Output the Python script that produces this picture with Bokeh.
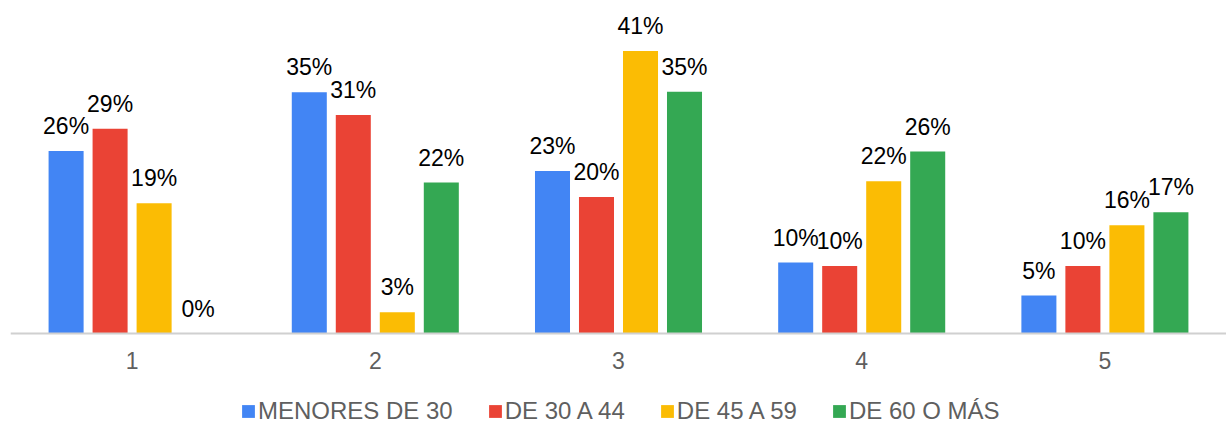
from bokeh.plotting import figure
from bokeh.models import ColumnDataSource, FactorRange, Range1d, Legend, LegendItem
from bokeh.transform import dodge
from bokeh.core.properties import value
from bokeh.embed import file_html
from bokeh.resources import INLINE

categories = ["1", "2", "3", "4", "5"]
series_names = ["MENORES DE 30", "DE 30 A 44", "DE 45 A 59", "DE 60 O MÁS"]
menores_30 = [26.5, 35.0, 23.6, 10.3, 5.5]
de_30_44 = [29.7, 31.7, 19.8, 9.8, 9.8]
de_45_59 = [18.9, 3.1, 41.0, 22.1, 15.7]
de_60_mas = [0.0, 21.9, 35.1, 26.4, 17.6]
labels_menores_30 = ["26%", "35%", "23%", "10%", "5%"]
labels_30_44 = ["29%", "31%", "20%", "10%", "10%"]
labels_45_59 = ["19%", "3%", "41%", "22%", "16%"]
labels_60_mas = ["0%", "22%", "35%", "26%", "17%"]
colors = ["#4285F4", "#EA4335", "#FBBC04", "#34A853"]

series_values = [menores_30, de_30_44, de_45_59, de_60_mas]
series_labels = [labels_menores_30, labels_30_44, labels_45_59, labels_60_mas]

p = figure(
    x_range=FactorRange(*categories, range_padding=0),
    y_range=Range1d(-13.06, 48.33),
    frame_width=1216, frame_height=423,
    output_backend="svg", toolbar_location=None,
    min_border_left=10, min_border_right=0, min_border_top=0, min_border_bottom=0,
    outline_line_color=None,
)
p.xgrid.visible = False
p.ygrid.visible = False
p.yaxis.visible = False

offsets = [-0.2714, -0.0905, 0.0905, 0.2714]
bar_w = 0.144
items = []
for name, vals, labs, col, off in zip(series_names, series_values, series_labels, colors, offsets):
    src = ColumnDataSource(dict(cat=categories, v=vals, lab=labs))
    r = p.vbar(x=dodge("cat", off, range=p.x_range), top="v", width=bar_w, source=src,
               fill_color=col, line_color=None)
    p.text(x=dodge("cat", off, range=p.x_range), y="v", text="lab", source=src,
           text_align="center", text_baseline="alphabetic", y_offset=-25,
           text_font=value("Liberation Sans"), text_font_size="23px", text_color="#000000")
    items.append(LegendItem(label=name, renderers=[r]))

ax = p.xaxis[0]
ax.fixed_location = 0
ax.axis_line_color = "#d0d0d0"
ax.axis_line_width = 2
ax.major_tick_line_color = None
ax.minor_tick_line_color = None
ax.major_tick_out = 0
ax.major_tick_in = 0
ax.major_label_standoff = 18
ax.major_label_text_font = "Liberation Sans"
ax.major_label_text_font_size = "23px"
ax.major_label_text_color = "#5f5f5f"

legend = Legend(items=items, orientation="horizontal", location=(230, -2),
                border_line_color=None, background_fill_alpha=0,
                glyph_width=16, glyph_height=16, label_standoff=2, spacing=34,
                padding=0, margin=0,
                label_text_font="Liberation Sans", label_text_font_size="24px",
                label_text_color="#5f5f5f")
p.add_layout(legend, "center")

open("out.html", "w").write(file_html(p, INLINE))
